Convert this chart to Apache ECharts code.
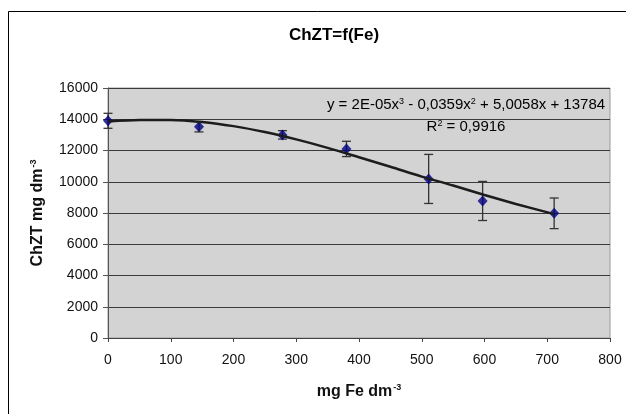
<!DOCTYPE html>
<html>
<head>
<meta charset="utf-8">
<script src="https://cdn.jsdelivr.net/npm/echarts@6/dist/echarts.min.js"></script>
<style>
html,body{margin:0;padding:0;background:#fff;}
#chart{width:626px;height:414px;}
</style>
</head>
<body>
<div id="chart"></div>
<script>
// measured points (mg Fe dm-3 -> ChZT mg dm-3) with error bar half widths
var fe = [0, 145, 278, 380, 511, 597, 711];
var chzt = [13900, 13520, 13000, 12100, 10180, 8770, 7980];
var chztErr = [480, 330, 270, 490, 1570, 1250, 980];

// trend line
var trendFe = [0, 50, 100, 150, 200, 250, 300, 350, 400, 450, 500, 550, 600, 650, 711];
var trendChzt = [13860, 13950, 13960, 13830, 13560, 13180, 12710, 12170, 11570, 10960, 10330, 9760, 9150, 8580, 7930];

var xTicks = [0, 800, 100];      // min, max, interval
var yTicks = [0, 16000, 2000];

var font = 'Liberation Sans, Arial, sans-serif';

var pointData = [], errData = [], trendData = [];
for (var i = 0; i < fe.length; i++) {
    pointData.push([fe[i], chzt[i]]);
    errData.push([fe[i], chzt[i], chztErr[i]]);
}
for (var j = 0; j < trendFe.length; j++) {
    trendData.push([trendFe[j], trendChzt[j]]);
}

function renderErr(params, api) {
    var x = api.value(0), y = api.value(1), e = api.value(2);
    var top = api.coord([x, y + e]);
    var bot = api.coord([x, y - e]);
    var w = 4.5;
    var st = {stroke: '#333', lineWidth: 1.3};
    return {
        type: 'group',
        children: [
            {type: 'line', shape: {x1: top[0], y1: top[1], x2: bot[0], y2: bot[1]}, style: st},
            {type: 'line', shape: {x1: top[0] - w, y1: top[1], x2: top[0] + w, y2: top[1]}, style: st},
            {type: 'line', shape: {x1: bot[0] - w, y1: bot[1], x2: bot[0] + w, y2: bot[1]}, style: st}
        ]
    };
}

var eqRich = {
    n: {fontFamily: font, fontSize: 15, color: '#111'},
    s: {fontFamily: font, fontSize: 9, color: '#111', padding: [0, 0, 7, 0]}
};
var nameRich = {
    n: {fontFamily: font, fontSize: 16, fontWeight: 'bold', color: '#111'},
    s: {fontFamily: font, fontSize: 9, fontWeight: 'bold', color: '#111', padding: [0, 0, 8, 1]}
};

var option = {
    backgroundColor: '#fff',
    animation: false,
    graphic: [
        {
            type: 'rect', z: -10, silent: true,
            shape: {x: 8.5, y: 11.5, width: 700, height: 500},
            style: {fill: '#fff', stroke: '#000', lineWidth: 1}
        },
        {
            type: 'text', z: 10,
            x: 334, y: 35,
            style: {
                text: 'ChZT=f(Fe)', font: 'bold 17px ' + font, fill: '#000',
                textAlign: 'center', textVerticalAlign: 'middle'
            }
        },
        {
            type: 'text', z: 10,
            x: 466, y: 105,
            style: {
                text: '{n|y = 2E-05x}{s|3}{n| - 0,0359x}{s|2}{n| + 5,0058x + 13784}',
                rich: eqRich,
                textAlign: 'center', textVerticalAlign: 'middle'
            }
        },
        {
            type: 'text', z: 10,
            x: 466, y: 127,
            style: {
                text: '{n|R}{s|2}{n| = 0,9916}',
                rich: eqRich,
                textAlign: 'center', textVerticalAlign: 'middle'
            }
        }
    ],
    grid: {
        left: 108,
        right: 16,
        top: 88,
        bottom: 76,
        show: true,
        backgroundColor: '#d3d3d3',
        borderColor: '#9a9a9a',
        borderWidth: 1
    },
    xAxis: {
        type: 'value',
        min: xTicks[0],
        max: xTicks[1],
        interval: xTicks[2],
        name: '{n|mg Fe dm}{s|-3}',
        nameLocation: 'middle',
        nameGap: 45,
        nameTextStyle: {rich: nameRich},
        axisLine: {show: true, lineStyle: {color: '#444', width: 1}},
        axisTick: {show: true, inside: false, length: 4, lineStyle: {color: '#444'}},
        axisLabel: {fontFamily: font, fontSize: 14, color: '#111', margin: 15},
        splitLine: {show: false}
    },
    yAxis: {
        type: 'value',
        min: yTicks[0],
        max: yTicks[1],
        interval: yTicks[2],
        name: '{n|ChZT mg dm}{s|-3}',
        nameLocation: 'middle',
        nameRotate: 90,
        nameGap: 62,
        nameTextStyle: {rich: nameRich},
        axisLine: {show: true, lineStyle: {color: '#555', width: 1}},
        axisTick: {show: true, inside: false, length: 5, lineStyle: {color: '#555'}},
        axisLabel: {
            fontFamily: font, fontSize: 14, color: '#111', margin: 10,
            formatter: function (v) { return String(v); }
        },
        splitLine: {show: true, lineStyle: {color: '#3a3a3a', width: 1}}
    },
    series: [
        {
            type: 'custom',
            name: 'err',
            renderItem: renderErr,
            encode: {x: 0, y: 1},
            data: errData,
            z: 3
        },
        {
            type: 'scatter',
            name: 'ChZT',
            symbol: 'diamond',
            symbolSize: [10, 11],
            itemStyle: {color: '#000080'},
            data: pointData,
            z: 4
        },
        {
            type: 'line',
            name: 'trend',
            data: trendData,
            smooth: 0.3,
            showSymbol: false,
            lineStyle: {color: '#1c1c1c', width: 2.5},
            z: 5
        }
    ]
};

var chart = echarts.init(document.getElementById('chart'));
chart.setOption(option);
</script>
</body>
</html>
